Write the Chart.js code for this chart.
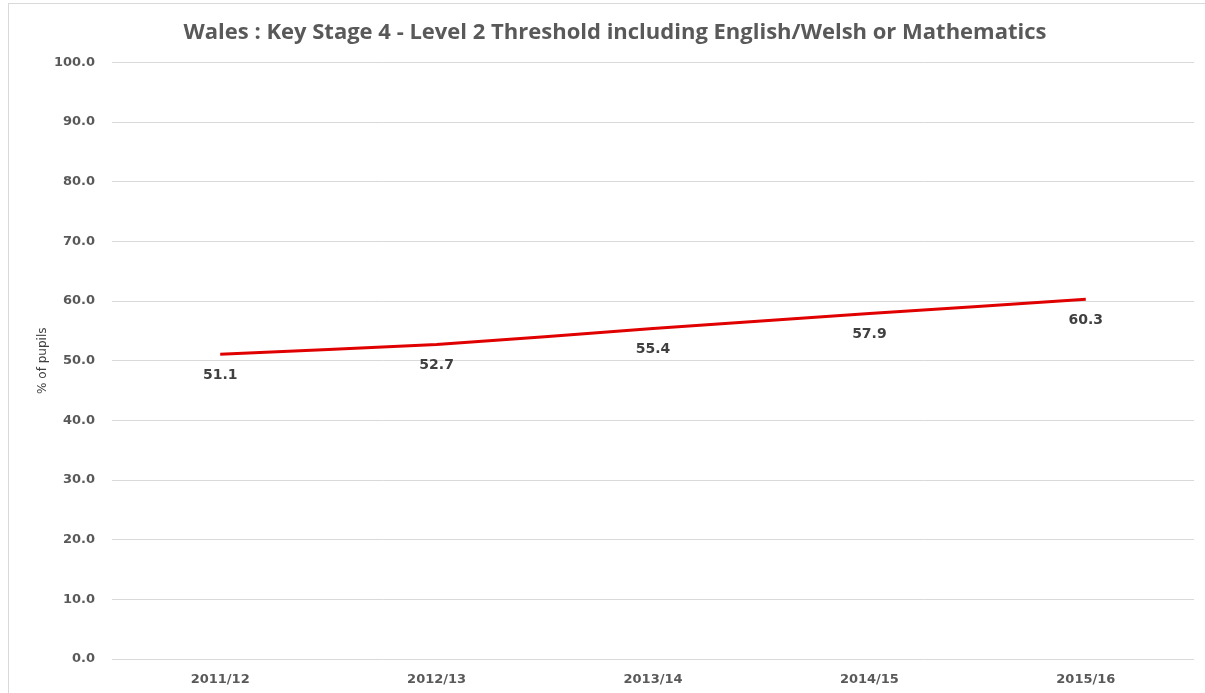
<!DOCTYPE html>
<html>
<head>
<meta charset="utf-8">
<script src="https://cdn.jsdelivr.net/npm/chart.js@4"></script>
<style>
  html, body { margin: 0; padding: 0; background: #fff; }
  #wrap { position: absolute; left: 8px; top: 3px; width: 1197px; height: 690px; border: 1px solid #d9d9d9; border-right: none; border-bottom: none; box-sizing: border-box; }
  canvas { display: block; }
</style>
</head>
<body>
<div id="wrap"><canvas id="c"></canvas></div>
<script>
const categories = ["2011/12", "2012/13", "2013/14", "2014/15", "2015/16"];
const values = [51.1, 52.7, 55.4, 57.9, 60.3];
const titleText = "Wales : Key Stage 4 - Level 2 Threshold including English/Welsh or Mathematics";
const yAxisTitle = "% of pupils";

const labelPlugin = {
  id: 'valueLabels',
  afterDatasetsDraw(chart) {
    const ctx = chart.ctx;
    const meta = chart.getDatasetMeta(0);
    ctx.save();
    ctx.font = "bold 14px 'DejaVu Sans'";
    ctx.fillStyle = "#404040";
    ctx.textAlign = "center";
    ctx.textBaseline = "middle";
    meta.data.forEach((pt, i) => {
      ctx.fillText(values[i].toFixed(1), pt.x, pt.y + 21);
    });
    ctx.restore();
  }
};

new Chart(document.getElementById('c'), {
  type: 'line',
  data: {
    labels: categories,
    datasets: [{
      data: values,
      borderColor: '#e00000',
      borderWidth: 3,
      pointRadius: 0,
      tension: 0.1,
      fill: false
    }]
  },
  options: {
    responsive: true,
    maintainAspectRatio: false,
    animation: false,
    layout: { padding: { left: 27, right: 11, top: 0, bottom: 0 } },
    plugins: {
      legend: { display: false },
      tooltip: { enabled: false },
      title: {
        display: true,
        text: titleText,
        color: '#595959',
        font: { family: "'Open Sans'", size: 22, weight: 'bold' },
        padding: { top: 16, bottom: 16 }
      }
    },
    scales: {
      x: {
        offset: true,
        grid: { display: false },
        border: { display: false },
        ticks: { color: '#595959', font: { family: "'DejaVu Sans'", size: 13, weight: 'bold' }, padding: 5, maxRotation: 0 },
        afterFit: s => { s.height = 34; }
      },
      y: {
        min: 0, max: 100,
        ticks: {
          stepSize: 10,
          color: '#595959',
          font: { family: "'DejaVu Sans'", size: 13, weight: 'bold' },
          padding: 17,
          callback: v => v.toFixed(1)
        },
        grid: { color: '#d9d9d9', drawTicks: false },
        border: { display: false },
        title: {
          display: true,
          text: yAxisTitle,
          color: '#404040',
          font: { family: "'DejaVu Sans'", size: 12 },
          padding: 0
        },
        afterFit: s => { s.width = 76; }
      }
    }
  },
  plugins: [labelPlugin]
});
</script>
</body>
</html>
